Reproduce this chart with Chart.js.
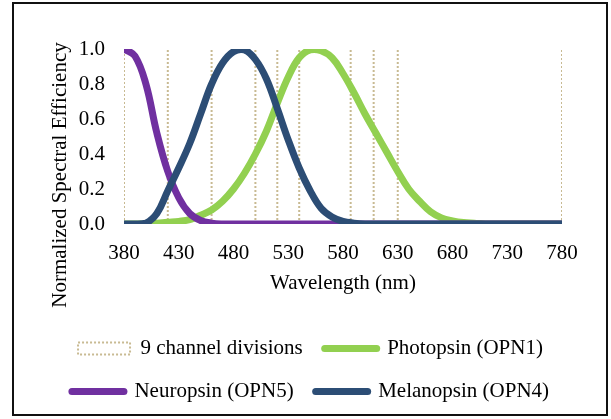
<!DOCTYPE html>
<html>
<head>
<meta charset="utf-8">
<script src="https://cdn.jsdelivr.net/npm/chart.js@4"></script>
<style>
    body { margin: 0; background: #fff; }
    #wrap { position: relative; width: 611px; height: 419px; }
    #frame { position: absolute; left: 12px; top: 2px; width: 596px; height: 414px; box-sizing: border-box; border: 2px solid #111; }
    canvas { position: absolute; left: 0; top: 0; }
</style>
</head>
<body>
<div id="wrap">
    <div id="frame"></div>
    <canvas id="opsinChart" width="611" height="419"></canvas>
</div>
<script>
// wavelengths (nm) sampled for the curves
const wavelengths = [380, 390, 400, 410, 420, 430, 440, 450, 460, 470, 480, 490, 500, 510, 520, 530, 540, 550, 560, 570, 580,
    590, 600, 610, 620, 630, 640, 650, 660, 670, 680, 690, 700, 710, 720, 730, 740, 750, 760, 770, 780];

const photopsin = [0, 0, 0, 0.005, 0.01, 0.015, 0.025, 0.05, 0.08, 0.13, 0.2, 0.29, 0.4, 0.53, 0.69, 0.84, 0.95, 0.995, 0.99, 0.95, 0.86,
    0.75, 0.63, 0.52, 0.41, 0.3, 0.2, 0.13, 0.07, 0.035, 0.018, 0.008, 0.004, 0, 0, 0, 0, 0, 0, 0, 0];

const neuropsin = [1.0, 0.96, 0.8, 0.52, 0.3, 0.15, 0.06, 0.02, 0.005, 0, 0, 0, 0, 0, 0, 0, 0, 0, 0, 0, 0,
    0, 0, 0, 0, 0, 0, 0, 0, 0, 0, 0, 0, 0, 0, 0, 0, 0, 0, 0, 0];

const melanopsin = [0, 0, 0.005, 0.06, 0.19, 0.32, 0.46, 0.63, 0.8, 0.92, 0.985, 0.995, 0.94, 0.83, 0.66, 0.48, 0.32, 0.19, 0.09, 0.04, 0.015,
    0.005, 0, 0, 0, 0, 0, 0, 0, 0, 0, 0, 0, 0, 0, 0, 0, 0, 0, 0, 0];

// the 9 channel divisions (10 boundaries)
const channelEdges = [380, 420, 460, 500, 520, 540, 587, 608, 630, 780];

const xTicks = [380, 430, 480, 530, 580, 630, 680, 730, 780];
const yTicks = [0, 0.2, 0.4, 0.6, 0.8, 1.0];

const FONT = "'Liberation Serif', 'Times New Roman', serif";

function toPoints(values) {
    return wavelengths.map((w, i) => ({ x: w, y: values[i] }));
}

const dividerPoints = [];
channelEdges.forEach(w => {
    dividerPoints.push({ x: w, y: 0 }, { x: w, y: 1 }, { x: w, y: null });
});

const yTitlePlugin = {
    id: 'yTitle',
    afterDraw(chart) {
        const ctx = chart.ctx;
        ctx.save();
        ctx.translate(60, 175);
        ctx.rotate(-Math.PI / 2);
        ctx.font = "21px " + FONT;
        ctx.fillStyle = '#000';
        ctx.textAlign = 'center';
        ctx.textBaseline = 'middle';
        ctx.fillText('Normalized Spectral Efficiency', 0, 0);
        ctx.restore();
    }
};

const legendStyles = [
    { pointStyle: 'rect', fillStyle: '#fff', strokeStyle: '#C8BA92', lineWidth: 2, lineDash: [2, 2], lineCap: 'butt' },
    { pointStyle: 'line', fillStyle: '#92D050', strokeStyle: '#92D050', lineWidth: 7, lineDash: [], lineCap: 'round' },
    { pointStyle: 'line', fillStyle: '#7030A0', strokeStyle: '#7030A0', lineWidth: 7, lineDash: [], lineCap: 'round' },
    { pointStyle: 'line', fillStyle: '#2C4D75', strokeStyle: '#2C4D75', lineWidth: 7, lineDash: [], lineCap: 'round' }
];

const ctx = document.getElementById('opsinChart').getContext('2d');
new Chart(ctx, {
    type: 'line',
    data: {
        datasets: [{
            label: '9 channel divisions',
            data: dividerPoints,
            borderColor: '#C8BA92',
            borderWidth: 2,
            borderDash: [2, 2],
            pointRadius: 0,
            tension: 0,
            spanGaps: false,
            order: 4
        }, {
            label: 'Photopsin (OPN1)',
            data: toPoints(photopsin),
            borderColor: '#92D050',
            borderWidth: 7,
            pointRadius: 0,
            tension: 0.4,
            order: 3
        }, {
            label: 'Neuropsin (OPN5)',
            data: toPoints(neuropsin),
            borderColor: '#7030A0',
            borderWidth: 7,
            pointRadius: 0,
            tension: 0.4,
            order: 2
        }, {
            label: 'Melanopsin (OPN4)',
            data: toPoints(melanopsin),
            borderColor: '#2C4D75',
            borderWidth: 7,
            pointRadius: 0,
            tension: 0.4,
            order: 1
        }]
    },
    options: {
        responsive: false,
        animation: false,
        layout: {
            padding: { left: 14, right: 4, top: 49, bottom: 7 }
        },
        scales: {
            x: {
                type: 'linear',
                min: 380,
                max: 780,
                grid: { display: false, drawTicks: false },
                border: { display: false },
                afterBuildTicks: (scale) => { scale.ticks = xTicks.map(v => ({ value: v })); },
                ticks: {
                    color: '#000',
                    padding: 17,
                    font: { family: FONT, size: 21 },
                    maxRotation: 0,
                    autoSkip: false
                },
                title: {
                    display: true,
                    text: 'Wavelength (nm)',
                    color: '#000',
                    font: { family: FONT, size: 21 },
                    padding: { top: 0, bottom: 20 }
                },
                afterFit: (scale) => { scale.height = 92; }
            },
            y: {
                min: 0,
                max: 1,
                grid: { display: false, drawTicks: false },
                border: { display: false },
                afterBuildTicks: (scale) => { scale.ticks = yTicks.map(v => ({ value: v })); },
                ticks: {
                    color: '#000',
                    padding: 19,
                    font: { family: FONT, size: 21 },
                    callback: (v) => Number(v).toFixed(1)
                },
                afterFit: (scale) => { scale.width = 110; }
            },
            yRight: {
                position: 'right',
                display: true,
                grid: { display: false, drawTicks: false },
                border: { display: false },
                ticks: { display: false },
                afterFit: (scale) => { scale.width = 45; }
            }
        },
        plugins: {
            tooltip: { enabled: false },
            legend: {
                position: 'bottom',
                labels: {
                    color: '#000',
                    font: { family: FONT, size: 21 },
                    usePointStyle: true,
                    pointStyleWidth: 52,
                    boxHeight: 12,
                    padding: 22,
                    sort: (a, b) => a.datasetIndex - b.datasetIndex,
                    generateLabels: (chart) => chart.data.datasets.map((ds, i) => Object.assign({
                        text: ds.label,
                        datasetIndex: i,
                        hidden: false,
                        fontColor: '#000'
                    }, legendStyles[i]))
                }
            }
        }
    },
    plugins: [yTitlePlugin]
});
</script>
</body>
</html>
